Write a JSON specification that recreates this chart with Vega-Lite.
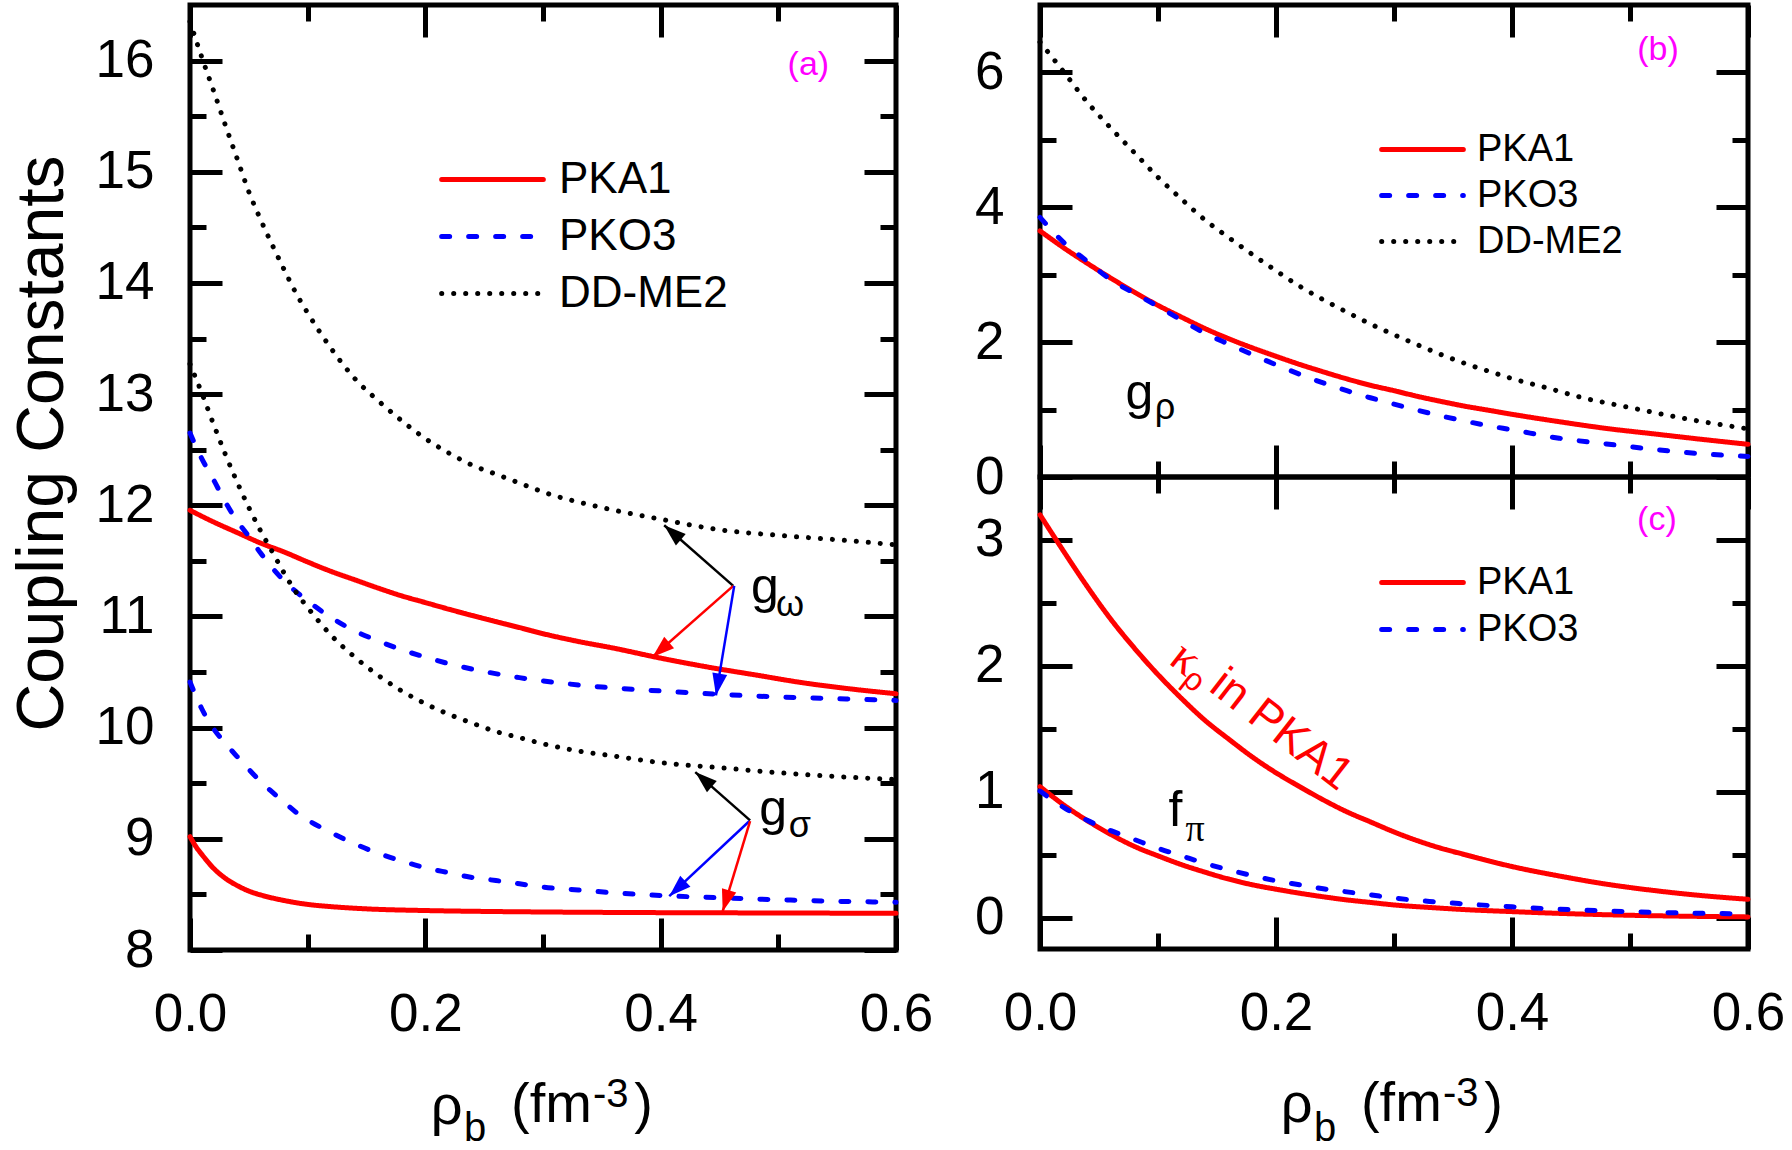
{
  "$schema": "https://vega.github.io/schema/vega-lite/v6.json",
  "background": "white",
  "padding": {"left": 6, "top": 0, "right": 0, "bottom": 0},
  "config": {
    "view": {"stroke": "black", "strokeWidth": 5},
    "font": "Liberation Sans",
    "axis": {"domain": false, "grid": false, "tickWidth": 5, "tickColor": "black", "labelFont": "Liberation Sans", "labelFontSize": 53, "labelColor": "black", "labelFlush": false, "labelOverlap": false, "labelBound": false, "titleFont": "Liberation Sans", "titleFontWeight": "normal", "titleColor": "black"},
    "legend": {"orient": "none", "padding": 0, "symbolStrokeWidth": 5, "labelFont": "Liberation Sans", "labelColor": "black", "labelLimit": 0}
  },
  "datasets": {
    "a": [
      {"m":"PKA1","c":"gw","x":0,"y":11.955},{"m":"PKA1","c":"gw","x":0.02,"y":11.85},{"m":"PKA1","c":"gw","x":0.04,"y":11.755},{"m":"PKA1","c":"gw","x":0.06,"y":11.66},{"m":"PKA1","c":"gw","x":0.08,"y":11.58},{"m":"PKA1","c":"gw","x":0.1,"y":11.49},{"m":"PKA1","c":"gw","x":0.12,"y":11.405},{"m":"PKA1","c":"gw","x":0.14,"y":11.33},{"m":"PKA1","c":"gw","x":0.16,"y":11.255},{"m":"PKA1","c":"gw","x":0.18,"y":11.185},{"m":"PKA1","c":"gw","x":0.2,"y":11.125},{"m":"PKA1","c":"gw","x":0.22,"y":11.065},{"m":"PKA1","c":"gw","x":0.25,"y":10.98},{"m":"PKA1","c":"gw","x":0.28,"y":10.9},{"m":"PKA1","c":"gw","x":0.3,"y":10.845},{"m":"PKA1","c":"gw","x":0.33,"y":10.775},{"m":"PKA1","c":"gw","x":0.36,"y":10.715},{"m":"PKA1","c":"gw","x":0.4,"y":10.625},{"m":"PKA1","c":"gw","x":0.44,"y":10.545},{"m":"PKA1","c":"gw","x":0.48,"y":10.475},{"m":"PKA1","c":"gw","x":0.52,"y":10.405},{"m":"PKA1","c":"gw","x":0.56,"y":10.35},{"m":"PKA1","c":"gw","x":0.6,"y":10.305},
      {"m":"PKA1","c":"gs","x":0,"y":9.02},{"m":"PKA1","c":"gs","x":0.005,"y":8.93},{"m":"PKA1","c":"gs","x":0.01,"y":8.86},{"m":"PKA1","c":"gs","x":0.02,"y":8.735},{"m":"PKA1","c":"gs","x":0.03,"y":8.645},{"m":"PKA1","c":"gs","x":0.04,"y":8.58},{"m":"PKA1","c":"gs","x":0.05,"y":8.53},{"m":"PKA1","c":"gs","x":0.06,"y":8.495},{"m":"PKA1","c":"gs","x":0.08,"y":8.445},{"m":"PKA1","c":"gs","x":0.1,"y":8.41},{"m":"PKA1","c":"gs","x":0.12,"y":8.39},{"m":"PKA1","c":"gs","x":0.15,"y":8.37},{"m":"PKA1","c":"gs","x":0.2,"y":8.355},{"m":"PKA1","c":"gs","x":0.25,"y":8.347},{"m":"PKA1","c":"gs","x":0.3,"y":8.342},{"m":"PKA1","c":"gs","x":0.4,"y":8.336},{"m":"PKA1","c":"gs","x":0.5,"y":8.333},{"m":"PKA1","c":"gs","x":0.6,"y":8.33},
      {"m":"PKO3","c":"gw","x":0,"y":12.65},{"m":"PKO3","c":"gw","x":0.01,"y":12.42},{"m":"PKO3","c":"gw","x":0.02,"y":12.23},{"m":"PKO3","c":"gw","x":0.03,"y":12.03},{"m":"PKO3","c":"gw","x":0.04,"y":11.86},{"m":"PKO3","c":"gw","x":0.05,"y":11.72},{"m":"PKO3","c":"gw","x":0.06,"y":11.57},{"m":"PKO3","c":"gw","x":0.08,"y":11.32},{"m":"PKO3","c":"gw","x":0.1,"y":11.14},{"m":"PKO3","c":"gw","x":0.12,"y":10.99},{"m":"PKO3","c":"gw","x":0.14,"y":10.87},{"m":"PKO3","c":"gw","x":0.16,"y":10.78},{"m":"PKO3","c":"gw","x":0.18,"y":10.7},{"m":"PKO3","c":"gw","x":0.2,"y":10.635},{"m":"PKO3","c":"gw","x":0.22,"y":10.575},{"m":"PKO3","c":"gw","x":0.25,"y":10.505},{"m":"PKO3","c":"gw","x":0.28,"y":10.45},{"m":"PKO3","c":"gw","x":0.3,"y":10.42},{"m":"PKO3","c":"gw","x":0.35,"y":10.365},{"m":"PKO3","c":"gw","x":0.4,"y":10.33},{"m":"PKO3","c":"gw","x":0.45,"y":10.3},{"m":"PKO3","c":"gw","x":0.5,"y":10.276},{"m":"PKO3","c":"gw","x":0.55,"y":10.26},{"m":"PKO3","c":"gw","x":0.6,"y":10.245},
      {"m":"PKO3","c":"gs","x":0,"y":10.41},{"m":"PKO3","c":"gs","x":0.01,"y":10.17},{"m":"PKO3","c":"gs","x":0.02,"y":9.99},{"m":"PKO3","c":"gs","x":0.03,"y":9.86},{"m":"PKO3","c":"gs","x":0.04,"y":9.74},{"m":"PKO3","c":"gs","x":0.05,"y":9.625},{"m":"PKO3","c":"gs","x":0.06,"y":9.515},{"m":"PKO3","c":"gs","x":0.07,"y":9.42},{"m":"PKO3","c":"gs","x":0.08,"y":9.33},{"m":"PKO3","c":"gs","x":0.09,"y":9.24},{"m":"PKO3","c":"gs","x":0.1,"y":9.17},{"m":"PKO3","c":"gs","x":0.12,"y":9.055},{"m":"PKO3","c":"gs","x":0.14,"y":8.955},{"m":"PKO3","c":"gs","x":0.16,"y":8.87},{"m":"PKO3","c":"gs","x":0.18,"y":8.8},{"m":"PKO3","c":"gs","x":0.2,"y":8.74},{"m":"PKO3","c":"gs","x":0.22,"y":8.695},{"m":"PKO3","c":"gs","x":0.24,"y":8.652},{"m":"PKO3","c":"gs","x":0.26,"y":8.625},{"m":"PKO3","c":"gs","x":0.28,"y":8.595},{"m":"PKO3","c":"gs","x":0.3,"y":8.565},{"m":"PKO3","c":"gs","x":0.33,"y":8.54},{"m":"PKO3","c":"gs","x":0.36,"y":8.515},{"m":"PKO3","c":"gs","x":0.4,"y":8.49},{"m":"PKO3","c":"gs","x":0.45,"y":8.47},{"m":"PKO3","c":"gs","x":0.5,"y":8.452},{"m":"PKO3","c":"gs","x":0.55,"y":8.438},{"m":"PKO3","c":"gs","x":0.6,"y":8.43},
      {"m":"DD-ME2","c":"gw","x":0,"y":16.35},{"m":"DD-ME2","c":"gw","x":0.01,"y":16.03},{"m":"DD-ME2","c":"gw","x":0.02,"y":15.73},{"m":"DD-ME2","c":"gw","x":0.03,"y":15.42},{"m":"DD-ME2","c":"gw","x":0.04,"y":15.12},{"m":"DD-ME2","c":"gw","x":0.05,"y":14.82},{"m":"DD-ME2","c":"gw","x":0.06,"y":14.57},{"m":"DD-ME2","c":"gw","x":0.07,"y":14.34},{"m":"DD-ME2","c":"gw","x":0.08,"y":14.12},{"m":"DD-ME2","c":"gw","x":0.09,"y":13.91},{"m":"DD-ME2","c":"gw","x":0.1,"y":13.73},{"m":"DD-ME2","c":"gw","x":0.12,"y":13.41},{"m":"DD-ME2","c":"gw","x":0.14,"y":13.14},{"m":"DD-ME2","c":"gw","x":0.16,"y":12.94},{"m":"DD-ME2","c":"gw","x":0.18,"y":12.76},{"m":"DD-ME2","c":"gw","x":0.2,"y":12.6},{"m":"DD-ME2","c":"gw","x":0.22,"y":12.47},{"m":"DD-ME2","c":"gw","x":0.24,"y":12.36},{"m":"DD-ME2","c":"gw","x":0.26,"y":12.28},{"m":"DD-ME2","c":"gw","x":0.28,"y":12.2},{"m":"DD-ME2","c":"gw","x":0.3,"y":12.12},{"m":"DD-ME2","c":"gw","x":0.35,"y":11.98},{"m":"DD-ME2","c":"gw","x":0.4,"y":11.875},{"m":"DD-ME2","c":"gw","x":0.45,"y":11.78},{"m":"DD-ME2","c":"gw","x":0.5,"y":11.73},{"m":"DD-ME2","c":"gw","x":0.55,"y":11.69},{"m":"DD-ME2","c":"gw","x":0.6,"y":11.645},
      {"m":"DD-ME2","c":"gs","x":0,"y":13.27},{"m":"DD-ME2","c":"gs","x":0.01,"y":13.01},{"m":"DD-ME2","c":"gs","x":0.02,"y":12.73},{"m":"DD-ME2","c":"gs","x":0.03,"y":12.46},{"m":"DD-ME2","c":"gs","x":0.04,"y":12.21},{"m":"DD-ME2","c":"gs","x":0.05,"y":11.98},{"m":"DD-ME2","c":"gs","x":0.06,"y":11.77},{"m":"DD-ME2","c":"gs","x":0.07,"y":11.58},{"m":"DD-ME2","c":"gs","x":0.08,"y":11.39},{"m":"DD-ME2","c":"gs","x":0.09,"y":11.22},{"m":"DD-ME2","c":"gs","x":0.1,"y":11.08},{"m":"DD-ME2","c":"gs","x":0.12,"y":10.83},{"m":"DD-ME2","c":"gs","x":0.14,"y":10.635},{"m":"DD-ME2","c":"gs","x":0.16,"y":10.47},{"m":"DD-ME2","c":"gs","x":0.18,"y":10.33},{"m":"DD-ME2","c":"gs","x":0.2,"y":10.215},{"m":"DD-ME2","c":"gs","x":0.22,"y":10.12},{"m":"DD-ME2","c":"gs","x":0.24,"y":10.04},{"m":"DD-ME2","c":"gs","x":0.26,"y":9.965},{"m":"DD-ME2","c":"gs","x":0.28,"y":9.91},{"m":"DD-ME2","c":"gs","x":0.3,"y":9.855},{"m":"DD-ME2","c":"gs","x":0.33,"y":9.79},{"m":"DD-ME2","c":"gs","x":0.36,"y":9.745},{"m":"DD-ME2","c":"gs","x":0.4,"y":9.685},{"m":"DD-ME2","c":"gs","x":0.45,"y":9.64},{"m":"DD-ME2","c":"gs","x":0.5,"y":9.595},{"m":"DD-ME2","c":"gs","x":0.55,"y":9.56},{"m":"DD-ME2","c":"gs","x":0.6,"y":9.533}
    ],
    "b": [
      {"m":"DD-ME2","c":"gr","x":0,"y":6.45},{"m":"DD-ME2","c":"gr","x":0.02,"y":6.01},{"m":"DD-ME2","c":"gr","x":0.04,"y":5.56},{"m":"DD-ME2","c":"gr","x":0.06,"y":5.175},{"m":"DD-ME2","c":"gr","x":0.08,"y":4.81},{"m":"DD-ME2","c":"gr","x":0.1,"y":4.445},{"m":"DD-ME2","c":"gr","x":0.12,"y":4.12},{"m":"DD-ME2","c":"gr","x":0.14,"y":3.81},{"m":"DD-ME2","c":"gr","x":0.16,"y":3.55},{"m":"DD-ME2","c":"gr","x":0.18,"y":3.3},{"m":"DD-ME2","c":"gr","x":0.2,"y":3.06},{"m":"DD-ME2","c":"gr","x":0.22,"y":2.83},{"m":"DD-ME2","c":"gr","x":0.24,"y":2.63},{"m":"DD-ME2","c":"gr","x":0.26,"y":2.445},{"m":"DD-ME2","c":"gr","x":0.28,"y":2.27},{"m":"DD-ME2","c":"gr","x":0.3,"y":2.11},{"m":"DD-ME2","c":"gr","x":0.32,"y":1.96},{"m":"DD-ME2","c":"gr","x":0.34,"y":1.815},{"m":"DD-ME2","c":"gr","x":0.36,"y":1.685},{"m":"DD-ME2","c":"gr","x":0.38,"y":1.57},{"m":"DD-ME2","c":"gr","x":0.4,"y":1.46},{"m":"DD-ME2","c":"gr","x":0.43,"y":1.32},{"m":"DD-ME2","c":"gr","x":0.46,"y":1.175},{"m":"DD-ME2","c":"gr","x":0.5,"y":1.03},{"m":"DD-ME2","c":"gr","x":0.55,"y":0.855},{"m":"DD-ME2","c":"gr","x":0.6,"y":0.715},
      {"m":"PKA1","c":"gr","x":0,"y":3.65},{"m":"PKA1","c":"gr","x":0.02,"y":3.4},{"m":"PKA1","c":"gr","x":0.04,"y":3.17},{"m":"PKA1","c":"gr","x":0.06,"y":2.95},{"m":"PKA1","c":"gr","x":0.08,"y":2.74},{"m":"PKA1","c":"gr","x":0.1,"y":2.545},{"m":"PKA1","c":"gr","x":0.12,"y":2.37},{"m":"PKA1","c":"gr","x":0.14,"y":2.2},{"m":"PKA1","c":"gr","x":0.16,"y":2.05},{"m":"PKA1","c":"gr","x":0.18,"y":1.915},{"m":"PKA1","c":"gr","x":0.2,"y":1.79},{"m":"PKA1","c":"gr","x":0.22,"y":1.67},{"m":"PKA1","c":"gr","x":0.24,"y":1.56},{"m":"PKA1","c":"gr","x":0.26,"y":1.455},{"m":"PKA1","c":"gr","x":0.28,"y":1.36},{"m":"PKA1","c":"gr","x":0.3,"y":1.28},{"m":"PKA1","c":"gr","x":0.32,"y":1.195},{"m":"PKA1","c":"gr","x":0.34,"y":1.12},{"m":"PKA1","c":"gr","x":0.36,"y":1.05},{"m":"PKA1","c":"gr","x":0.38,"y":0.99},{"m":"PKA1","c":"gr","x":0.4,"y":0.93},{"m":"PKA1","c":"gr","x":0.44,"y":0.82},{"m":"PKA1","c":"gr","x":0.48,"y":0.72},{"m":"PKA1","c":"gr","x":0.52,"y":0.64},{"m":"PKA1","c":"gr","x":0.56,"y":0.56},{"m":"PKA1","c":"gr","x":0.6,"y":0.485},
      {"m":"PKO3","c":"gr","x":0,"y":3.85},{"m":"PKO3","c":"gr","x":0.02,"y":3.48},{"m":"PKO3","c":"gr","x":0.04,"y":3.2},{"m":"PKO3","c":"gr","x":0.06,"y":2.925},{"m":"PKO3","c":"gr","x":0.08,"y":2.725},{"m":"PKO3","c":"gr","x":0.1,"y":2.53},{"m":"PKO3","c":"gr","x":0.12,"y":2.325},{"m":"PKO3","c":"gr","x":0.14,"y":2.13},{"m":"PKO3","c":"gr","x":0.16,"y":1.97},{"m":"PKO3","c":"gr","x":0.18,"y":1.815},{"m":"PKO3","c":"gr","x":0.2,"y":1.665},{"m":"PKO3","c":"gr","x":0.22,"y":1.525},{"m":"PKO3","c":"gr","x":0.24,"y":1.395},{"m":"PKO3","c":"gr","x":0.26,"y":1.28},{"m":"PKO3","c":"gr","x":0.28,"y":1.175},{"m":"PKO3","c":"gr","x":0.3,"y":1.08},{"m":"PKO3","c":"gr","x":0.32,"y":0.99},{"m":"PKO3","c":"gr","x":0.34,"y":0.905},{"m":"PKO3","c":"gr","x":0.36,"y":0.83},{"m":"PKO3","c":"gr","x":0.38,"y":0.76},{"m":"PKO3","c":"gr","x":0.4,"y":0.7},{"m":"PKO3","c":"gr","x":0.44,"y":0.575},{"m":"PKO3","c":"gr","x":0.48,"y":0.49},{"m":"PKO3","c":"gr","x":0.52,"y":0.41},{"m":"PKO3","c":"gr","x":0.56,"y":0.345},{"m":"PKO3","c":"gr","x":0.6,"y":0.305}
    ],
    "c": [
      {"m":"PKA1","c":"kr","x":0,"y":3.2},{"m":"PKA1","c":"kr","x":0.02,"y":2.91},{"m":"PKA1","c":"kr","x":0.04,"y":2.63},{"m":"PKA1","c":"kr","x":0.06,"y":2.37},{"m":"PKA1","c":"kr","x":0.08,"y":2.14},{"m":"PKA1","c":"kr","x":0.1,"y":1.93},{"m":"PKA1","c":"kr","x":0.12,"y":1.74},{"m":"PKA1","c":"kr","x":0.14,"y":1.565},{"m":"PKA1","c":"kr","x":0.16,"y":1.417},{"m":"PKA1","c":"kr","x":0.18,"y":1.275},{"m":"PKA1","c":"kr","x":0.2,"y":1.15},{"m":"PKA1","c":"kr","x":0.22,"y":1.04},{"m":"PKA1","c":"kr","x":0.24,"y":0.935},{"m":"PKA1","c":"kr","x":0.26,"y":0.84},{"m":"PKA1","c":"kr","x":0.28,"y":0.76},{"m":"PKA1","c":"kr","x":0.3,"y":0.68},{"m":"PKA1","c":"kr","x":0.32,"y":0.61},{"m":"PKA1","c":"kr","x":0.34,"y":0.55},{"m":"PKA1","c":"kr","x":0.36,"y":0.5},{"m":"PKA1","c":"kr","x":0.38,"y":0.45},{"m":"PKA1","c":"kr","x":0.4,"y":0.405},{"m":"PKA1","c":"kr","x":0.44,"y":0.33},{"m":"PKA1","c":"kr","x":0.48,"y":0.265},{"m":"PKA1","c":"kr","x":0.52,"y":0.215},{"m":"PKA1","c":"kr","x":0.56,"y":0.175},{"m":"PKA1","c":"kr","x":0.6,"y":0.145},
      {"m":"PKA1","c":"fp","x":0,"y":1.04},{"m":"PKA1","c":"fp","x":0.02,"y":0.895},{"m":"PKA1","c":"fp","x":0.04,"y":0.77},{"m":"PKA1","c":"fp","x":0.06,"y":0.66},{"m":"PKA1","c":"fp","x":0.08,"y":0.565},{"m":"PKA1","c":"fp","x":0.1,"y":0.49},{"m":"PKA1","c":"fp","x":0.12,"y":0.42},{"m":"PKA1","c":"fp","x":0.14,"y":0.36},{"m":"PKA1","c":"fp","x":0.16,"y":0.305},{"m":"PKA1","c":"fp","x":0.18,"y":0.26},{"m":"PKA1","c":"fp","x":0.2,"y":0.225},{"m":"PKA1","c":"fp","x":0.22,"y":0.193},{"m":"PKA1","c":"fp","x":0.24,"y":0.165},{"m":"PKA1","c":"fp","x":0.26,"y":0.14},{"m":"PKA1","c":"fp","x":0.28,"y":0.12},{"m":"PKA1","c":"fp","x":0.3,"y":0.1},{"m":"PKA1","c":"fp","x":0.33,"y":0.08},{"m":"PKA1","c":"fp","x":0.36,"y":0.063},{"m":"PKA1","c":"fp","x":0.4,"y":0.047},{"m":"PKA1","c":"fp","x":0.45,"y":0.03},{"m":"PKA1","c":"fp","x":0.5,"y":0.018},{"m":"PKA1","c":"fp","x":0.55,"y":0.01},{"m":"PKA1","c":"fp","x":0.6,"y":0.005},
      {"m":"PKO3","c":"fp","x":0,"y":1.005},{"m":"PKO3","c":"fp","x":0.02,"y":0.875},{"m":"PKO3","c":"fp","x":0.04,"y":0.772},{"m":"PKO3","c":"fp","x":0.06,"y":0.69},{"m":"PKO3","c":"fp","x":0.08,"y":0.62},{"m":"PKO3","c":"fp","x":0.1,"y":0.55},{"m":"PKO3","c":"fp","x":0.12,"y":0.49},{"m":"PKO3","c":"fp","x":0.14,"y":0.43},{"m":"PKO3","c":"fp","x":0.16,"y":0.378},{"m":"PKO3","c":"fp","x":0.18,"y":0.333},{"m":"PKO3","c":"fp","x":0.2,"y":0.292},{"m":"PKO3","c":"fp","x":0.22,"y":0.26},{"m":"PKO3","c":"fp","x":0.24,"y":0.228},{"m":"PKO3","c":"fp","x":0.26,"y":0.204},{"m":"PKO3","c":"fp","x":0.28,"y":0.18},{"m":"PKO3","c":"fp","x":0.3,"y":0.155},{"m":"PKO3","c":"fp","x":0.33,"y":0.128},{"m":"PKO3","c":"fp","x":0.36,"y":0.108},{"m":"PKO3","c":"fp","x":0.4,"y":0.085},{"m":"PKO3","c":"fp","x":0.45,"y":0.062},{"m":"PKO3","c":"fp","x":0.5,"y":0.047},{"m":"PKO3","c":"fp","x":0.55,"y":0.035},{"m":"PKO3","c":"fp","x":0.6,"y":0.03}
    ]
  },
  "bounds": "flush",
  "spacing": 144,
  "resolve": {"scale": {"x": "independent", "y": "independent", "color": "independent", "strokeDash": "independent", "strokeWidth": "independent"}, "legend": {"color": "independent", "strokeDash": "independent"}},
  "hconcat": [
    {
      "width": 706, "height": 945,
      "resolve": {"axis": {"x": "independent", "y": "independent"}},
      "layer": [
        {
          "data": {"name": "a"},
          "mark": {"type": "line", "strokeCap": "round", "interpolate": "monotone"},
          "encoding": {
            "x": {"field": "x", "type": "quantitative", "scale": {"domain": [0, 0.6], "nice": false, "zero": false},
              "axis": {"orient": "bottom", "title": null, "values": [0,0.1,0.2,0.3,0.4,0.5,0.6], "tickSize": {"condition": {"test": "round(datum.value*10) % 2 === 0", "value": -32}, "value": -16}, "labelExpr": "round(datum.value*10) % 2 === 0 ? format(datum.value, '.1f') : ''", "labelPadding": 70}},
            "y": {"field": "y", "type": "quantitative", "scale": {"domain": [8, 16.5], "nice": false, "zero": false},
              "axis": {"orient": "left", "values": [8,8.5,9,9.5,10,10.5,11,11.5,12,12.5,13,13.5,14,14.5,15,15.5,16], "tickSize": {"condition": {"test": "datum.value % 1 === 0", "value": -32}, "value": -16}, "labelExpr": "datum.value % 1 === 0 ? format(datum.value, 'd') : ''", "labelPadding": 68,
                "title": "Coupling Constants", "titleFontSize": 66, "titleAngle": 270, "titleBaseline": "alphabetic", "titleX": -128, "titleY": 438}},
            "color": {"field": "m", "type": "nominal", "scale": {"domain": ["PKA1", "PKO3", "DD-ME2"], "range": ["#ff0000", "#0000ff", "#000000"]},
              "legend": {"title": null, "legendX": 278, "legendY": 150, "symbolType": "M-2.311,0H2.311", "symbolSize": 1936, "labelFontSize": 44, "labelOffset": 42, "rowPadding": 10, "encode": {"symbols": {"update": {"strokeCap": {"value": "round"}}}}}},
            "strokeDash": {"field": "m", "type": "nominal", "scale": {"domain": ["PKA1", "PKO3", "DD-ME2"], "range": [[1, 0], [8, 19], [0.1, 11.9]]},
              "legend": {"title": null, "legendX": 278, "legendY": 150, "symbolType": "M-2.311,0H2.311", "symbolSize": 1936, "labelFontSize": 44, "labelOffset": 42, "rowPadding": 10, "encode": {"symbols": {"update": {"strokeCap": {"value": "round"}}}}}},
            "strokeWidth": {"field": "m", "type": "nominal", "scale": {"domain": ["PKA1", "PKO3", "DD-ME2"], "range": [5, 5, 6.5]}, "legend": null},
            "detail": {"field": "c"}
          }
        },
        {
          "data": {"values": [{"t": "(a)", "x": 0.5255, "y": 15.96}]},
          "mark": {"type": "text", "fontSize": 34, "color": "#ff00ff"},
          "encoding": {
            "x": {"field": "x", "type": "quantitative", "axis": {"orient": "top", "title": null, "labels": false, "values": [0,0.1,0.2,0.3,0.4,0.5,0.6], "tickSize": {"condition": {"test": "round(datum.value*10) % 2 === 0", "value": -32}, "value": -16}}},
            "y": {"field": "y", "type": "quantitative", "axis": {"orient": "right", "title": null, "labels": false, "values": [8,8.5,9,9.5,10,10.5,11,11.5,12,12.5,13,13.5,14,14.5,15,15.5,16], "tickSize": {"condition": {"test": "datum.value % 1 === 0", "value": -32}, "value": -16}}},
            "text": {"field": "t"}
          }
        },
        {
          "data": {"values": [{"m": "DD-ME2", "x0": 0.4617, "y0": 11.275, "x1": 0.403, "y1": 11.82, "dir": 311}, {"m": "PKA1", "x0": 0.4617, "y0": 11.275, "x1": 0.3931, "y1": 10.636, "dir": 229}, {"m": "PKO3", "x0": 0.4625, "y0": 11.275, "x1": 0.447, "y1": 10.29, "dir": 190}, {"m": "DD-ME2", "x0": 0.476, "y0": 9.166, "x1": 0.4294, "y1": 9.6, "dir": 311}, {"m": "PKO3", "x0": 0.4755, "y0": 9.16, "x1": 0.4073, "y1": 8.484, "dir": 227}, {"m": "PKA1", "x0": 0.476, "y0": 9.16, "x1": 0.4527, "y1": 8.347, "dir": 197}]},
          "layer": [
            {"mark": {"type": "rule", "strokeWidth": 2.5},
             "encoding": {"x": {"field": "x0", "type": "quantitative", "axis": null}, "y": {"field": "y0", "type": "quantitative", "axis": null}, "x2": {"field": "x1"}, "y2": {"field": "y1"}, "color": {"field": "m", "type": "nominal", "legend": null}}},
            {"mark": {"type": "point", "shape": "M0,0L0.34,1L-0.34,1Z", "filled": true, "size": 1936, "opacity": 1, "strokeWidth": 0},
             "encoding": {"x": {"field": "x1", "type": "quantitative", "axis": null}, "y": {"field": "y1", "type": "quantitative", "axis": null}, "angle": {"field": "dir", "type": "quantitative", "scale": null}, "color": {"field": "m", "type": "nominal", "legend": null}}}
          ]
        },
        {
          "data": {"values": [{"t": "g", "x": 0.4768, "y": 11.12}, {"t": "g", "x": 0.4838, "y": 9.123}]},
          "mark": {"type": "text", "fontSize": 50, "align": "left", "baseline": "alphabetic", "color": "black"},
          "encoding": {"x": {"field": "x", "type": "quantitative", "axis": null}, "y": {"field": "y", "type": "quantitative", "axis": null}, "text": {"field": "t"}}
        },
        {
          "data": {"values": [{"t": "ω", "x": 0.4981, "y": 11.0}, {"t": "σ", "x": 0.5088, "y": 9.015}]},
          "mark": {"type": "text", "fontSize": 36, "align": "left", "baseline": "alphabetic", "color": "black"},
          "encoding": {"x": {"field": "x", "type": "quantitative", "axis": null}, "y": {"field": "y", "type": "quantitative", "axis": null}, "text": {"field": "t"}}
        },
        {
          "data": {"values": [{"t": "ρ", "x": 0.2046, "y": 6.435}, {"t": "(fm", "x": 0.2728, "y": 6.45}, {"t": ")", "x": 0.3775, "y": 6.45}]},
          "mark": {"type": "text", "fontSize": 56, "align": "left", "baseline": "alphabetic", "color": "black"},
          "encoding": {"x": {"field": "x", "type": "quantitative", "axis": null}, "y": {"field": "y", "type": "quantitative", "axis": null}, "text": {"field": "t"}}
        },
        {
          "data": {"values": [{"t": "b", "x": 0.2329, "y": 6.284}, {"t": "-3", "x": 0.3425, "y": 6.585}]},
          "mark": {"type": "text", "fontSize": 40, "align": "left", "baseline": "alphabetic", "color": "black"},
          "encoding": {"x": {"field": "x", "type": "quantitative", "axis": null}, "y": {"field": "y", "type": "quantitative", "axis": null}, "text": {"field": "t"}}
        }
      ]
    },
    {
      "vconcat": [
        {
          "width": 708, "height": 472,
          "resolve": {"axis": {"x": "independent", "y": "independent"}},
          "layer": [
            {
              "data": {"name": "b"},
              "mark": {"type": "line", "strokeCap": "round", "interpolate": "monotone"},
              "encoding": {
                "x": {"field": "x", "type": "quantitative", "scale": {"domain": [0, 0.6], "nice": false, "zero": false},
                  "axis": {"orient": "bottom", "title": null, "labels": false, "values": [0,0.1,0.2,0.3,0.4,0.5,0.6], "tickSize": {"condition": {"test": "round(datum.value*10) % 2 === 0", "value": -32}, "value": -16}}},
                "y": {"field": "y", "type": "quantitative", "scale": {"domain": [0, 7], "nice": false, "zero": false},
                  "axis": {"orient": "left", "title": null, "values": [0,1,2,3,4,5,6], "tickSize": {"condition": {"test": "round(datum.value) % 2 === 0", "value": -32}, "value": -16}, "labelExpr": "round(datum.value) % 2 === 0 ? format(datum.value, 'd') : ''", "labelPadding": 68}},
                "color": {"field": "m", "type": "nominal", "scale": {"domain": ["PKA1", "PKO3", "DD-ME2"], "range": ["#ff0000", "#0000ff", "#000000"]},
                  "legend": {"title": null, "legendX": 361, "legendY": 123, "symbolType": "M-2.15,0H2.15", "symbolSize": 1444, "labelFontSize": 38, "labelOffset": 33, "rowPadding": 5, "encode": {"symbols": {"update": {"strokeCap": {"value": "round"}}}}}},
                "strokeDash": {"field": "m", "type": "nominal", "scale": {"domain": ["PKA1", "PKO3", "DD-ME2"], "range": [[1, 0], [8, 19], [0.1, 11.9]]},
                  "legend": {"title": null, "legendX": 361, "legendY": 123, "symbolType": "M-2.15,0H2.15", "symbolSize": 1444, "labelFontSize": 38, "labelOffset": 33, "rowPadding": 5, "encode": {"symbols": {"update": {"strokeCap": {"value": "round"}}}}}},
                "strokeWidth": {"field": "m", "type": "nominal", "scale": {"domain": ["PKA1", "PKO3", "DD-ME2"], "range": [5, 5, 6.5]}, "legend": null},
                "detail": {"field": "c"}
              }
            },
            {
              "data": {"values": [{"t": "(b)", "x": 0.5237, "y": 6.34}]},
              "mark": {"type": "text", "fontSize": 34, "color": "#ff00ff"},
              "encoding": {
                "x": {"field": "x", "type": "quantitative", "axis": {"orient": "top", "title": null, "labels": false, "values": [0,0.1,0.2,0.3,0.4,0.5,0.6], "tickSize": {"condition": {"test": "round(datum.value*10) % 2 === 0", "value": -32}, "value": -16}}},
                "y": {"field": "y", "type": "quantitative", "axis": {"orient": "right", "title": null, "labels": false, "values": [0,1,2,3,4,5,6], "tickSize": {"condition": {"test": "round(datum.value) % 2 === 0", "value": -32}, "value": -16}}},
                "text": {"field": "t"}
              }
            },
            {
              "data": {"values": [{"t": "g", "x": 0.0725, "y": 1.013}]},
              "mark": {"type": "text", "fontSize": 50, "align": "left", "baseline": "alphabetic", "color": "black"},
              "encoding": {"x": {"field": "x", "type": "quantitative", "axis": null}, "y": {"field": "y", "type": "quantitative", "axis": null}, "text": {"field": "t"}}
            },
            {
              "data": {"values": [{"t": "ρ", "x": 0.0973, "y": 0.86}]},
              "mark": {"type": "text", "fontSize": 36, "align": "left", "baseline": "alphabetic", "color": "black"},
              "encoding": {"x": {"field": "x", "type": "quantitative", "axis": null}, "y": {"field": "y", "type": "quantitative", "axis": null}, "text": {"field": "t"}}
            }
          ]
        },
        {
          "width": 708, "height": 472,
          "resolve": {"axis": {"x": "independent", "y": "independent"}},
          "layer": [
            {
              "data": {"name": "c"},
              "mark": {"type": "line", "strokeWidth": 5, "strokeCap": "round", "interpolate": "monotone"},
              "encoding": {
                "x": {"field": "x", "type": "quantitative", "scale": {"domain": [0, 0.6], "nice": false, "zero": false},
                  "axis": {"orient": "bottom", "title": null, "values": [0,0.1,0.2,0.3,0.4,0.5,0.6], "tickSize": {"condition": {"test": "round(datum.value*10) % 2 === 0", "value": -32}, "value": -16}, "labelExpr": "round(datum.value*10) % 2 === 0 ? format(datum.value, '.1f') : ''", "labelPadding": 70}},
                "y": {"field": "y", "type": "quantitative", "scale": {"domain": [-0.25, 3.5], "nice": false, "zero": false},
                  "axis": {"orient": "left", "title": null, "values": [0,0.5,1,1.5,2,2.5,3], "tickSize": {"condition": {"test": "datum.value % 1 === 0", "value": -32}, "value": -16}, "labelExpr": "datum.value % 1 === 0 ? format(datum.value, 'd') : ''", "labelPadding": 68}},
                "color": {"field": "m", "type": "nominal", "scale": {"domain": ["PKA1", "PKO3"], "range": ["#ff0000", "#0000ff"]},
                  "legend": {"title": null, "legendX": 361, "legendY": 84, "symbolType": "M-2.15,0H2.15", "symbolSize": 1444, "labelFontSize": 38, "labelOffset": 33, "rowPadding": 6, "encode": {"symbols": {"update": {"strokeCap": {"value": "round"}}}}}},
                "strokeDash": {"field": "m", "type": "nominal", "scale": {"domain": ["PKA1", "PKO3"], "range": [[1, 0], [8, 19]]},
                  "legend": {"title": null, "legendX": 361, "legendY": 84, "symbolType": "M-2.15,0H2.15", "symbolSize": 1444, "labelFontSize": 38, "labelOffset": 33, "rowPadding": 6, "encode": {"symbols": {"update": {"strokeCap": {"value": "round"}}}}}},
                "detail": {"field": "c"}
              }
            },
            {
              "data": {"values": [{"t": "(c)", "x": 0.5228, "y": 3.159}]},
              "mark": {"type": "text", "fontSize": 34, "color": "#ff00ff"},
              "encoding": {
                "x": {"field": "x", "type": "quantitative", "axis": {"orient": "top", "title": null, "labels": false, "values": [0,0.1,0.2,0.3,0.4,0.5,0.6], "tickSize": {"condition": {"test": "round(datum.value*10) % 2 === 0", "value": -32}, "value": -16}}},
                "y": {"field": "y", "type": "quantitative", "axis": {"orient": "right", "title": null, "labels": false, "values": [0,0.5,1,1.5,2,2.5,3], "tickSize": {"condition": {"test": "datum.value % 1 === 0", "value": -32}, "value": -16}}},
                "text": {"field": "t"}
              }
            },
            {
              "data": {"values": [{"t": "f", "x": 0.109, "y": 0.728}]},
              "mark": {"type": "text", "fontSize": 50, "align": "left", "baseline": "alphabetic", "color": "black"},
              "encoding": {"x": {"field": "x", "type": "quantitative", "axis": null}, "y": {"field": "y", "type": "quantitative", "axis": null}, "text": {"field": "t"}}
            },
            {
              "data": {"values": [{"t": "π", "x": 0.1233, "y": 0.609}]},
              "mark": {"type": "text", "fontSize": 38, "font": "Liberation Serif", "align": "left", "baseline": "alphabetic", "color": "black"},
              "encoding": {"x": {"field": "x", "type": "quantitative", "axis": null}, "y": {"field": "y", "type": "quantitative", "axis": null}, "text": {"field": "t"}}
            },
            {
              "data": {"values": [{"t": "κ", "x": 0.1233, "y": 2.055}]},
              "mark": {"type": "text", "fontSize": 48, "font": "Liberation Serif", "angle": 38, "color": "#ff0000"},
              "encoding": {"x": {"field": "x", "type": "quantitative", "axis": null}, "y": {"field": "y", "type": "quantitative", "axis": null}, "text": {"field": "t"}}
            },
            {
              "data": {"values": [{"t": "ρ", "x": 0.1305, "y": 1.885}]},
              "mark": {"type": "text", "fontSize": 32, "angle": 38, "color": "#ff0000"},
              "encoding": {"x": {"field": "x", "type": "quantitative", "axis": null}, "y": {"field": "y", "type": "quantitative", "axis": null}, "text": {"field": "t"}}
            },
            {
              "data": {"values": [{"t": "in PKA1", "x": 0.2047, "y": 1.491}]},
              "mark": {"type": "text", "fontSize": 46, "angle": 38, "color": "#ff0000"},
              "encoding": {"x": {"field": "x", "type": "quantitative", "axis": null}, "y": {"field": "y", "type": "quantitative", "axis": null}, "text": {"field": "t"}}
            },
            {
              "data": {"values": [{"t": "ρ", "x": 0.204, "y": -1.628}, {"t": "(fm", "x": 0.272, "y": -1.615}, {"t": ")", "x": 0.3765, "y": -1.615}]},
              "mark": {"type": "text", "fontSize": 56, "align": "left", "baseline": "alphabetic", "color": "black"},
              "encoding": {"x": {"field": "x", "type": "quantitative", "axis": null}, "y": {"field": "y", "type": "quantitative", "axis": null}, "text": {"field": "t"}}
            },
            {
              "data": {"values": [{"t": "b", "x": 0.2322, "y": -1.776}, {"t": "-3", "x": 0.3415, "y": -1.496}]},
              "mark": {"type": "text", "fontSize": 40, "align": "left", "baseline": "alphabetic", "color": "black"},
              "encoding": {"x": {"field": "x", "type": "quantitative", "axis": null}, "y": {"field": "y", "type": "quantitative", "axis": null}, "text": {"field": "t"}}
            }
          ]
        }
      ],
      "spacing": 0,
      "bounds": "flush",
      "resolve": {"scale": {"x": "independent", "y": "independent", "color": "independent", "strokeDash": "independent", "strokeWidth": "independent"}, "legend": {"color": "independent", "strokeDash": "independent"}}
    }
  ]
}
